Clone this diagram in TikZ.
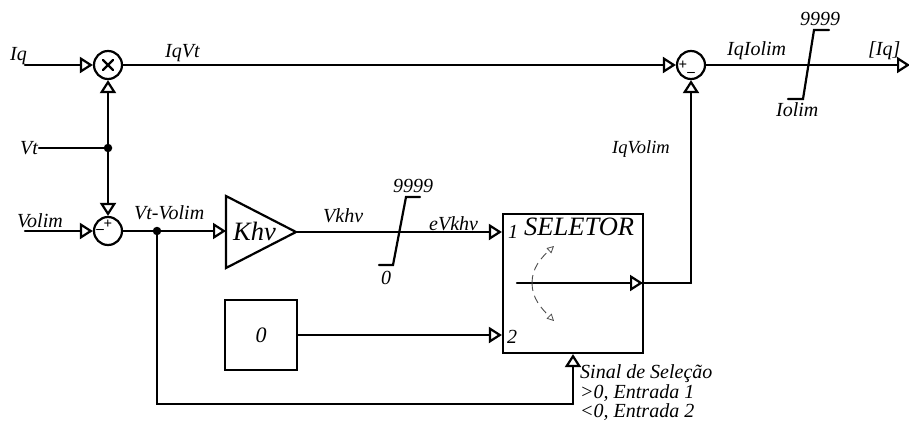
\documentclass[tikz,border=0pt]{standalone}
\usepackage{fontspec}
\setmainfont{Liberation Serif}
\usetikzlibrary{arrows.meta,shapes.geometric}
\tikzset{
  x=1pt,y=-1pt,
  wire/.style={line width=2.2pt,line cap=round,line join=miter},
  tip/.style={wire,-{Triangle[open,length=13pt,width=16pt,line width=2.2pt,fill=white]}},
  sumcirc/.style={circle,draw,line width=2.2pt,minimum size=28pt,inner sep=0pt,fill=white},
  lab/.style={font=\fontsize{20}{20}\itshape\selectfont,inner sep=0pt},
  big/.style={font=\fontsize{26.5}{26.5}\itshape\selectfont,inner sep=0pt},
  dotn/.style={circle,fill=black,minimum size=8.5pt,inner sep=0pt},
  sign/.style={font=\fontsize{15}{15}\bfseries\selectfont,inner sep=0pt},
  swarc/.style={black!70,line width=.9pt,dash pattern=on 8pt off 5pt,-{Triangle[open,length=7pt,width=7pt,line width=.8pt]}},
}
\begin{document}
\begin{tikzpicture}
\useasboundingbox (0,0) rectangle (909,423);
% blocks
\node[sumcirc] (mul) at (108,65) {};
\node[sumcirc] (s1) at (108,231) {};
\node[sumcirc] (s2) at (691,65) {};
\node[draw,line width=2.2pt,minimum width=140pt,minimum height=139pt,inner sep=0pt] (sel) at (573,283.5) {};
\node[draw,line width=2.2pt,minimum width=72pt,minimum height=70pt,inner sep=0pt] (zero) at (261,335) {};
\node[lab,font=\fontsize{22}{22}\itshape\selectfont] at (zero) {0};
\coordinate (kt) at (226,196);
\coordinate (kb) at (226,268);
\coordinate (ka) at (296,232);
\draw[wire] (kt) -- (ka) -- (kb) -- cycle;
\node[big,anchor=base west] (khv) at (233,240) {Khv};
% symbols in junctions
\draw[wire] (103,60) -- (113,70) (113,60) -- (103,70);
\node[sign] at (108,224) {+};
\node[sign] at (100,231) {–};
\node[sign] at (683,65) {+};
\node[sign] at (691,74) {–};
% free ends
\coordinate (iq0) at (25,65);
\coordinate (vt0) at (39,148);
\coordinate (vo0) at (25,231);
\node[dotn] (dvt) at (108,148) {};
\node[dotn] (dv) at (157,231) {};
\coordinate (out) at (910,65);
\coordinate (b1) at (157,404);
\coordinate (b2) at (573,404);
\coordinate (r1) at (691,283);
\coordinate (swl) at (517,283);
\coordinate (swr) at (643,283);
\coordinate (ks) at (296,232);
% connectors
\draw[tip] (iq0) -- (mul.west);
\draw[tip] (vo0) -- (s1.west);
\draw[wire] (vt0) -- (dvt);
\draw[tip] (dvt) -- (mul.south);
\draw[tip] (dvt) -- (s1.north);
\draw[tip] (mul.east) -- (s2.west);
\draw[tip] (s2.east) -- (out);
\draw[tip] (s1.east) -- (kt |- s1.east);
\draw[tip] (ks) -- (sel.west |- ks);
\draw[tip] (zero.east) -- (sel.west |- zero.east);
\draw[wire] (dv) -- (b1) -- (b2);
\draw[tip] (b2) -- (sel.south);
\draw[tip] (swl) -- (swr);
\draw[wire] (swr) -- (r1);
\draw[tip] (r1) -- (s2.south);
% limiters
\draw[wire] (379,265) -- (393,265) -- (406,197) -- (420,197);
\draw[wire] (788,99) -- (803,99) -- (814,30) -- (829,30);
% switch
\draw[swarc] (532,283) .. controls (532,268) and (541,258) .. (554,246);
\draw[swarc] (532,283) .. controls (532,298) and (541,308) .. (554,321);
% labels
\node[lab,anchor=base west] at (10,60) {Iq};
\node[lab,anchor=base west] at (165,57) {IqVt};
\node[lab,anchor=base west] at (20,154) {Vt};
\node[lab,anchor=base west] at (17,227) {Volim};
\node[lab,anchor=base west] at (134,219) {Vt-Volim};
\node[lab,anchor=base west] at (323,222) {Vkhv};
\node[lab,anchor=base west] at (429,230) {eVkhv};
\node[lab,anchor=base west] at (393,192) {9999};
\node[lab,anchor=base west] at (381,284) {0};
\node[lab,anchor=base west] at (727,55) {IqIolim};
\node[lab,anchor=base west] at (800,25) {9999};
\node[lab,anchor=base west] at (776,116) {Iolim};
\node[lab,anchor=base west] at (868,55) {[Iq]};
\node[lab,font=\fontsize{18.5}{18.5}\itshape\selectfont,anchor=base west] at (612,153) {IqVolim};
\node[lab,anchor=base west] at (508,238) {1};
\node[lab,anchor=base west] at (507,343) {2};
\node[big,anchor=base west] at (524,235) {SELETOR};
\node[lab,anchor=base west] at (580,378) {Sinal de Seleção};
\node[lab,anchor=base west] at (580,398) {>0, Entrada 1};
\node[lab,anchor=base west] at (580,417) {<0, Entrada 2};
\end{tikzpicture}
\end{document}
